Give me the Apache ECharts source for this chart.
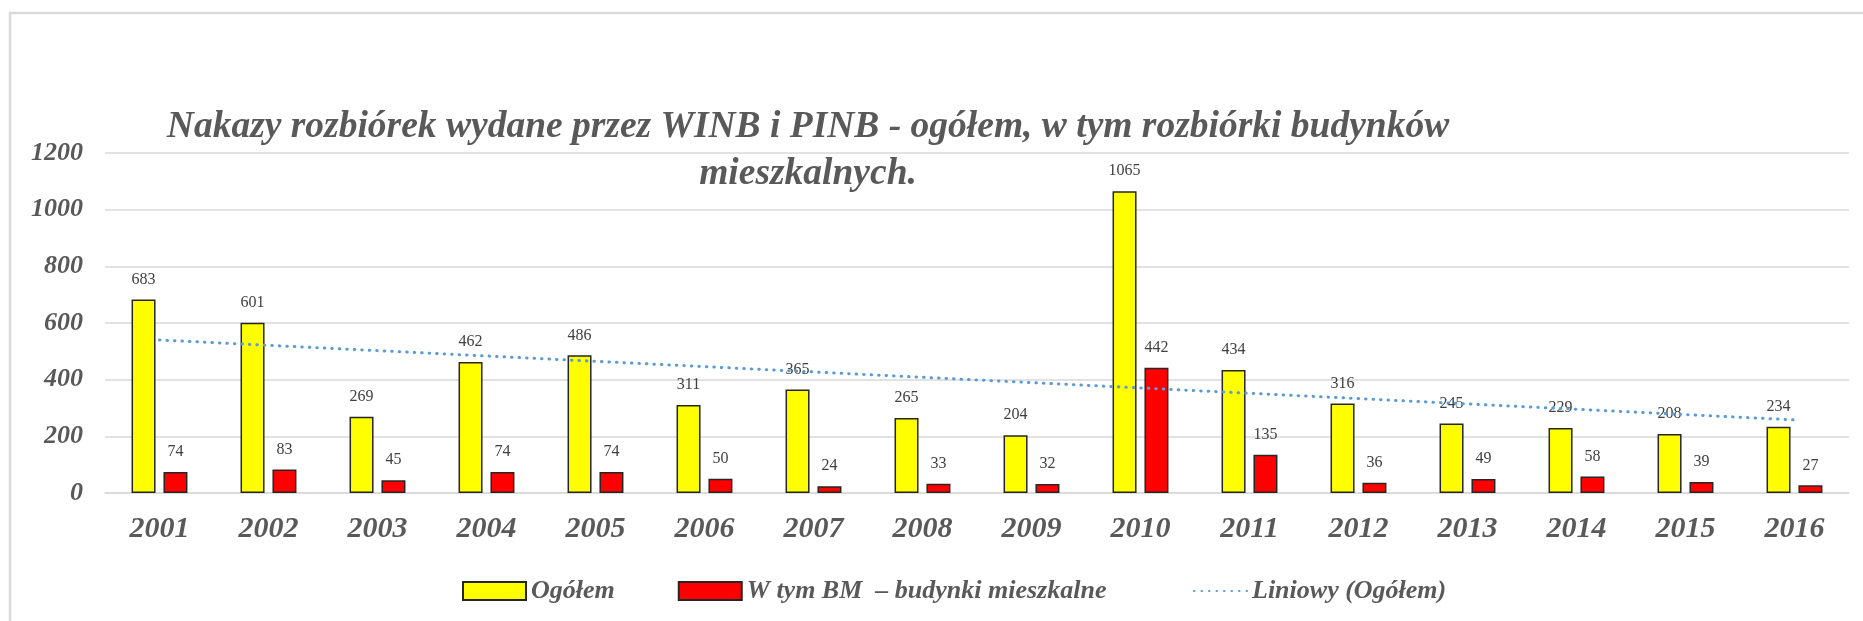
<!DOCTYPE html>
<html>
<head>
<meta charset="utf-8">
<script src="https://cdn.jsdelivr.net/npm/echarts@6/dist/echarts.min.js"></script>
<style>html,body{margin:0;padding:0;background:#fff;}#c{width:1863px;height:621px;}</style>
</head>
<body>
<div id="c"></div>
<script>
const years = ['2001','2002','2003','2004','2005','2006','2007','2008','2009','2010','2011','2012','2013','2014','2015','2016'];
const ogolem = [683,601,269,462,486,311,365,265,204,1065,434,316,245,229,208,234];
const mieszkalne = [74,83,45,74,74,50,24,33,32,442,135,36,49,58,39,27];
const trendEnds = [540, 258];
const yTicks = [0,200,400,600,800,1000,1200];

const trendData = years.map((y,i)=> i===0 ? trendEnds[0] : (i===years.length-1 ? trendEnds[1] : null));
const serif = '"Liberation Serif","Times New Roman",serif';
const gray = '#595959';
const legendText = {fontFamily:serif, fontStyle:'italic', fontWeight:'bold', fontSize:26, color:gray};

const chart = echarts.init(document.getElementById('c'), null, {renderer:'canvas'});
chart.setOption({
  animation:false,
  backgroundColor:'#fff',
  graphic:[{type:'rect', shape:{x:10,y:13,width:1900,height:700}, style:{fill:'none', stroke:'#d9d9d9', lineWidth:2.5}, silent:true, z:-1}],
  title:{text:'Nakazy rozbiórek wydane przez WINB i PINB - ogółem, w tym rozbiórki budynków\nmieszkalnych.', left:803, textAlign:'center', top:99,
    textStyle:{fontFamily:serif, fontStyle:'italic', fontWeight:'bold', fontSize:37.5, lineHeight:47, color:gray}},
  grid:{left:105, right:14, top:153, bottom:128, containLabel:false},
  legend:[{data:['Ogółem','W tym BM  – budynki mieszkalne'], left:457, top:573, itemWidth:63, itemHeight:18, itemGap:63, icon:'rect',
      textStyle:legendText},
    {data:['Liniowy (Ogółem)'], left:1188, top:573, itemWidth:53, itemHeight:18,
      itemStyle:{opacity:0}, textStyle:legendText}],
  xAxis:{type:'category', data:years, axisTick:{show:false}, axisLine:{lineStyle:{color:'#d9d9d9', width:1.5}},
    axisLabel:{fontFamily:serif, fontStyle:'italic', fontWeight:'bold', fontSize:30, color:gray, margin:21}},
  yAxis:{type:'value', min:0, max:1200, interval:200, axisLine:{show:false}, axisTick:{show:false},
    splitLine:{lineStyle:{color:'#d9d9d9', width:1.5}},
    axisLabel:{fontFamily:serif, fontStyle:'italic', fontWeight:'bold', fontSize:26, color:gray, margin:22,
      formatter:(v)=> yTicks.includes(v) ? String(v) : ''}},
  series:[
    {name:'Ogółem', type:'bar', data:ogolem, barWidth:24, barGap:'33%',
      itemStyle:{color:'#FFFF00', borderColor:'#262626', borderWidth:1.5},
      label:{show:true, position:'top', distance:12, fontFamily:serif, fontSize:16, color:'#404040'}},
    {name:'W tym BM  – budynki mieszkalne', type:'bar', data:mieszkalne, barWidth:24,
      itemStyle:{color:'#FF0000', borderColor:'#262626', borderWidth:1.5},
      label:{show:true, position:'top', distance:12, fontFamily:serif, fontSize:16, color:'#404040'}},
    {name:'Liniowy (Ogółem)', type:'line', data:trendData, connectNulls:true, symbol:'none', z:5,
      lineStyle:{color:'#5B9BD5', width:3, type:[0.5,7], cap:'round'}, itemStyle:{color:'#5B9BD5'}}
  ]
});
</script>
</body>
</html>
